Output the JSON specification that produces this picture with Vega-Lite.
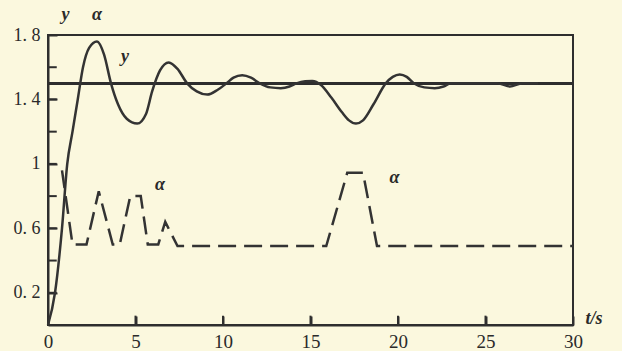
{
  "$schema": "https://vega.github.io/schema/vega-lite/v6.json",
  "width": 525,
  "height": 290,
  "autosize": {"type": "none"},
  "padding": {"left": 48, "top": 35, "right": 49, "bottom": 26},
  "background": "#fbf8de",
  "config": {
    "view": {"stroke": "#2e2e2e", "strokeWidth": 2},
    "axis": {
      "domainColor": "#2e2e2e", "domainWidth": 2,
      "tickColor": "#2e2e2e", "tickWidth": 2, "tickSize": -9,
      "labelFont": "Liberation Serif", "labelFontSize": 18, "labelColor": "#2a2a2a",
      "labelOverlap": false, "labelFlush": false, "title": null, "grid": false
    }
  },
  "datasets": {
    "y": [
      {"t": 0, "v": 0}, {"t": 0.4, "v": 0.2}, {"t": 0.8, "v": 0.6}, {"t": 1.1, "v": 1.0},
      {"t": 1.4, "v": 1.2}, {"t": 1.7, "v": 1.4}, {"t": 2.0, "v": 1.6}, {"t": 2.35, "v": 1.72},
      {"t": 2.8, "v": 1.76}, {"t": 3.2, "v": 1.68}, {"t": 3.6, "v": 1.5}, {"t": 4.0, "v": 1.37},
      {"t": 4.5, "v": 1.28}, {"t": 5.1, "v": 1.25}, {"t": 5.6, "v": 1.31}, {"t": 5.95, "v": 1.45},
      {"t": 6.4, "v": 1.58}, {"t": 6.9, "v": 1.63}, {"t": 7.4, "v": 1.59}, {"t": 7.95, "v": 1.5},
      {"t": 8.5, "v": 1.45}, {"t": 9.1, "v": 1.43}, {"t": 9.7, "v": 1.46}, {"t": 10.2, "v": 1.5},
      {"t": 10.6, "v": 1.535}, {"t": 11.1, "v": 1.55}, {"t": 11.6, "v": 1.535}, {"t": 12.1, "v": 1.5},
      {"t": 12.7, "v": 1.475}, {"t": 13.3, "v": 1.47}, {"t": 13.8, "v": 1.48}, {"t": 14.2, "v": 1.5},
      {"t": 14.7, "v": 1.513}, {"t": 15.1, "v": 1.515}, {"t": 15.6, "v": 1.49}, {"t": 16.2, "v": 1.41},
      {"t": 16.8, "v": 1.32}, {"t": 17.2, "v": 1.27}, {"t": 17.6, "v": 1.25}, {"t": 18.0, "v": 1.27},
      {"t": 18.6, "v": 1.37}, {"t": 19.3, "v": 1.5}, {"t": 19.7, "v": 1.54}, {"t": 20.1, "v": 1.555},
      {"t": 20.5, "v": 1.54}, {"t": 20.9, "v": 1.5}, {"t": 21.5, "v": 1.475}, {"t": 22.1, "v": 1.47},
      {"t": 22.6, "v": 1.48}, {"t": 23.0, "v": 1.5}, {"t": 25.7, "v": 1.5}, {"t": 26.4, "v": 1.48},
      {"t": 27.1, "v": 1.5}, {"t": 28, "v": 1.5}
    ],
    "alpha": [
      {"t": 0.8, "v": 0.96}, {"t": 1.4, "v": 0.5}, {"t": 2.2, "v": 0.5}, {"t": 2.9, "v": 0.83},
      {"t": 3.7, "v": 0.5}, {"t": 4.1, "v": 0.5}, {"t": 4.7, "v": 0.8}, {"t": 5.3, "v": 0.8},
      {"t": 5.7, "v": 0.5}, {"t": 6.3, "v": 0.5}, {"t": 6.7, "v": 0.64}, {"t": 7.4, "v": 0.49},
      {"t": 15.9, "v": 0.49}, {"t": 17.1, "v": 0.945}, {"t": 18.0, "v": 0.945}, {"t": 18.8, "v": 0.49},
      {"t": 30, "v": 0.49}
    ],
    "xticks": [{"t": 5}, {"t": 10}, {"t": 15}, {"t": 20}, {"t": 25}],
    "yticks": [{"v": 0.2}, {"v": 0.4}, {"v": 0.6}, {"v": 0.8}, {"v": 1.0}, {"v": 1.2}, {"v": 1.4}, {"v": 1.6}],
    "labels": [
      {"t": 1.0, "v": 1.925, "txt": "y"},
      {"t": 2.8, "v": 1.925, "txt": "α"},
      {"t": 4.4, "v": 1.665, "txt": "y"},
      {"t": 6.4, "v": 0.87, "txt": "α"},
      {"t": 19.8, "v": 0.91, "txt": "α"},
      {"t": 31.2, "v": 0.04, "txt": "t/s"}
    ]
  },
  "layer": [
    {
      "data": {"name": "y"},
      "mark": {"type": "rule", "color": "#2e2e2e", "strokeWidth": 2},
      "encoding": {
        "y": {"datum": 1.5, "type": "quantitative",
          "scale": {"domain": [0, 1.8], "nice": false, "zero": true},
          "axis": {
            "values": [0.2, 0.4, 0.6, 0.8, 1, 1.2, 1.4, 1.6, 1.8],
            "labelPadding": 17,
            "labelExpr": "indexof([0.2, 0.6, 1, 1.4, 1.8], datum.value) >= 0 ? replace(format(datum.value, '.1~f'), '.', '. ') : ''"
          }
        }
      }
    },
    {
      "data": {"name": "xticks"},
      "mark": {"type": "rule", "color": "#2e2e2e", "strokeWidth": 2},
      "encoding": {
        "x": {"field": "t", "type": "quantitative"},
        "y": {"datum": 0, "type": "quantitative"},
        "y2": {"datum": 0.058}
      }
    },
    {
      "data": {"name": "yticks"},
      "mark": {"type": "rule", "color": "#2e2e2e", "strokeWidth": 2},
      "encoding": {
        "y": {"field": "v", "type": "quantitative"},
        "x": {"datum": 0, "type": "quantitative"},
        "x2": {"datum": 0.5}
      }
    },
    {
      "data": {"name": "y"},
      "mark": {"type": "line", "interpolate": "monotone", "color": "#333333", "strokeWidth": 2.5},
      "encoding": {
        "x": {"field": "t", "type": "quantitative",
          "scale": {"domain": [0, 30], "nice": false},
          "axis": {"values": [0, 5, 10, 15, 20, 25, 30], "labelPadding": 16, "labelFontSize": 19}
        },
        "y": {"field": "v", "type": "quantitative"}
      }
    },
    {
      "data": {"name": "alpha"},
      "mark": {"type": "line", "interpolate": "linear", "color": "#333333", "strokeWidth": 2.5, "strokeDash": [18, 8]},
      "encoding": {
        "x": {"field": "t", "type": "quantitative"},
        "y": {"field": "v", "type": "quantitative"}
      }
    },
    {
      "data": {"name": "labels"},
      "mark": {"type": "text", "font": "Liberation Serif", "fontStyle": "italic", "fontWeight": "bold", "fontSize": 18, "color": "#2a2a2a", "align": "center", "baseline": "middle"},
      "encoding": {
        "x": {"field": "t", "type": "quantitative"},
        "y": {"field": "v", "type": "quantitative"},
        "text": {"field": "txt"}
      }
    }
  ]
}
